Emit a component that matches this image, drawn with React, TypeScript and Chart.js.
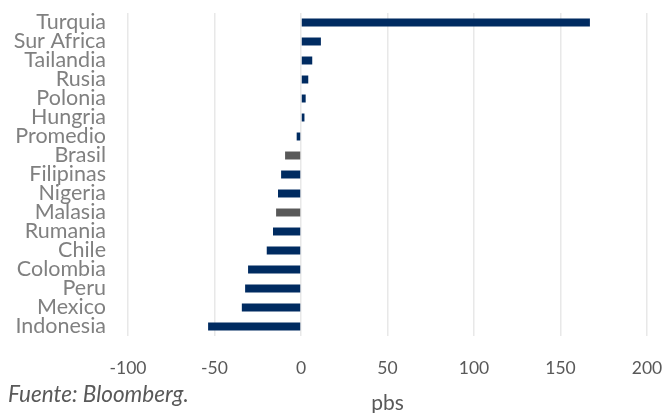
import React, { useEffect, useRef } from "react";
import { Chart, registerables } from "chart.js";

Chart.register(...registerables);

const categories = [
  "Turquia", "Sur Africa", "Tailandia", "Rusia", "Polonia", "Hungria", "Promedio",
  "Brasil", "Filipinas", "Nigeria", "Malasia", "Rumania", "Chile", "Colombia",
  "Peru", "Mexico", "Indonesia",
];
const values = [167, 11.5, 6.5, 4.2, 2.7, 2, -2.5, -9.2, -11.5, -13.3, -14.4, -16.2, -19.8, -30.6, -32.3, -34.2, -53.7];
const highlighted = ["Brasil", "Malasia"];
const xTicks = [-100, -50, 0, 50, 100, 150, 200];

const NAVY = "#002B61";
const GRAY = "#595959";
const FONT = "Lato, 'Open Sans', sans-serif";

export default function App() {
  const ref = useRef<HTMLCanvasElement | null>(null);
  useEffect(() => {
    if (!ref.current) return;
    const chart = new Chart(ref.current, {
      type: "bar",
      data: {
        labels: categories,
        datasets: [
          {
            data: values,
            backgroundColor: categories.map((c) => (highlighted.includes(c) ? GRAY : NAVY)),
            barPercentage: 0.84,
            categoryPercentage: 0.5,
          },
        ],
      },
      options: {
        indexAxis: "y",
        animation: false,
        responsive: false,
        maintainAspectRatio: false,
        layout: { padding: { top: 13, right: 17, bottom: 0, left: 0 } },
        plugins: { legend: { display: false }, tooltip: { enabled: false } },
        scales: {
          x: {
            type: "linear",
            min: -100,
            max: 200,
            afterBuildTicks: (s: any) => {
              s.ticks = xTicks.map((v) => ({ value: v }));
            },
            afterFit: (s: any) => {
              s.height = 77;
              s.paddingLeft = 0;
              s.paddingRight = 0;
            },
            grid: { color: "#e8e8e8", lineWidth: 1.5, drawTicks: false },
            border: { display: false },
            ticks: {
              padding: 22,
              color: GRAY,
              font: { family: FONT, size: 17.5 },
            },
            title: {
              display: true,
              text: "pbs",
              color: GRAY,
              font: { family: FONT, size: 21 },
              padding: { top: 0, bottom: -3 },
            },
          },
          y: {
            afterFit: (s: any) => {
              s.width = 128;
              s.paddingTop = 0;
              s.paddingBottom = 0;
            },
            grid: { display: false, drawTicks: false },
            border: { display: false },
            ticks: {
              padding: 22,
              color: "#808080",
              autoSkip: false,
              font: { family: FONT, size: 21.5 },
            },
          },
        },
      },
    });
    return () => chart.destroy();
  }, []);
  return (
    <div style={{ position: "fixed", left: 0, top: 0, width: 664, height: 413, background: "#fff" }}>
      <canvas ref={ref} width={664} height={413} style={{ display: "block" }} />
      <div
        style={{
          position: "absolute",
          left: 8,
          top: 380,
          fontFamily: FONT,
          fontStyle: "italic",
          fontSize: 22.5,
          lineHeight: "27px",
          color: GRAY,
          whiteSpace: "nowrap",
        }}
      >
        Fuente: Bloomberg.
      </div>
    </div>
  );
}
